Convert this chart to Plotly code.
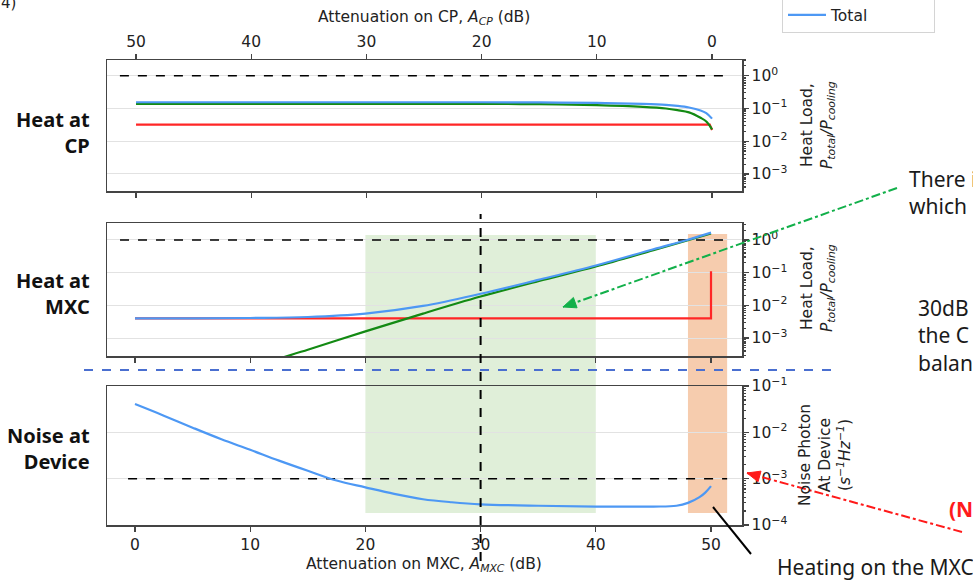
import plotly.graph_objects as go

W, H = 973, 580

# ---------------- data ----------------
# Heat at CP (x = attenuation on CP, dB)
cp_atten = [50, 40, 30, 20, 15, 10, 6, 4, 3, 2, 1, 0.5, 0]
cp_total = [0.155, 0.155, 0.155, 0.155, 0.153, 0.148, 0.138, 0.129, 0.120, 0.107, 0.087, 0.072, 0.049]
cp_active = [0.138, 0.138, 0.138, 0.138, 0.135, 0.126, 0.112, 0.100, 0.089, 0.076, 0.052, 0.040, 0.023]
cp_passive_atten = [50, 0.2, 0]
cp_passive = [0.032, 0.032, 0.022]

# Heat at MXC (x = attenuation on MXC, dB)
mxc_atten = [0, 5, 10, 15, 20, 25, 30, 35, 40, 45, 48, 50]
mxc_total = [4.0e-3, 4.0e-3, 4.1e-3, 4.4e-3, 5.6e-3, 9.6e-3, 2.26e-2, 6.0e-2, 0.165, 0.52, 1.02, 1.68]
mxc_active = [1.3e-5, 4.0e-5, 1.26e-4, 4.4e-4, 1.6e-3, 5.6e-3, 1.86e-2, 5.5e-2, 0.155, 0.49, 0.98, 1.58]
mxc_passive_atten = [0, 50, 50]
mxc_passive = [4.0e-3, 4.0e-3, 0.11]

# Noise photon at device (x = attenuation on MXC, dB)
noise_atten = [0, 2.5, 5, 7.5, 10, 12.5, 15, 17.5, 20, 22.5, 25, 27.5, 30,
               35, 40, 45, 47, 48, 49, 49.5, 50]
noise_photon = [4.07e-2, 2.29e-2, 1.26e-2, 7.1e-3, 4.2e-3, 2.45e-3, 1.48e-3, 9.1e-4,
                6.5e-4, 4.7e-4, 3.6e-4, 3.1e-4, 2.8e-4, 2.6e-4, 2.5e-4, 2.5e-4,
                2.6e-4, 3.0e-4, 4.0e-4, 5.0e-4, 6.9e-4]

heat_limit = 1.0
noise_limit = 1e-3
chosen_mxc = 30
green_band = [20, 40]
orange_band = [48, 51.4]

tick_db = [0, 10, 20, 30, 40, 50]
heat_ticks = [1, 0.1, 0.01, 0.001]
heat_ticktext = ["10<sup>0</sup>", "10<sup>−1</sup>", "10<sup>−2</sup>", "10<sup>−3</sup>"]
noise_ticks = [0.1, 0.01, 0.001, 0.0001]
noise_ticktext = ["10<sup>−1</sup>", "10<sup>−2</sup>", "10<sup>−3</sup>", "10<sup>−4</sup>"]

# ---------------- styling ----------------
BLUE = "#4d98f4"
GREEN = "#138a13"
RED = "#ff2626"
AXC = "#444444"
TXT = "#222222"
MPL = "DejaVu Sans"
SANS = "Noto Sans"
LW = 2.2


def px(x):
    return x / W


def py(y):
    return 1 - y / H


def minor_vals(lo, hi):
    vals = []
    for e in range(lo, hi + 1):
        for k in range(2, 10):
            vals.append(k * 10.0 ** e)
    return vals


fig = go.Figure()

# --- Heat at CP ---
fig.add_trace(go.Scatter(x=[51.4, -1.3], y=[heat_limit, heat_limit], mode="lines",
                         line=dict(color="black", width=1.5, dash="dash"),
                         xaxis="x", yaxis="y", showlegend=False, hoverinfo="skip"))
fig.add_trace(go.Scatter(x=cp_passive_atten, y=cp_passive, mode="lines", name="Passive heat",
                         line=dict(color=RED, width=LW), xaxis="x", yaxis="y",
                         legendgroup="p"))
fig.add_trace(go.Scatter(x=cp_atten, y=cp_active, mode="lines", name="Active heat",
                         line=dict(color=GREEN, width=LW, shape="spline"), xaxis="x", yaxis="y",
                         legendgroup="a"))
fig.add_trace(go.Scatter(x=cp_atten, y=cp_total, mode="lines", name="Total",
                         line=dict(color=BLUE, width=LW, shape="spline"), xaxis="x", yaxis="y",
                         legendgroup="t"))

# --- Heat at MXC ---
fig.add_trace(go.Scatter(x=[-1.3, 51.5], y=[heat_limit, heat_limit], mode="lines",
                         line=dict(color="black", width=1.5, dash="dash"),
                         xaxis="x2", yaxis="y2", showlegend=False, hoverinfo="skip"))
fig.add_trace(go.Scatter(x=mxc_passive_atten, y=mxc_passive, mode="lines",
                         line=dict(color=RED, width=LW), xaxis="x2", yaxis="y2",
                         legendgroup="p", showlegend=False))
fig.add_trace(go.Scatter(x=mxc_atten, y=mxc_active, mode="lines",
                         line=dict(color=GREEN, width=LW, shape="spline"), xaxis="x2", yaxis="y2",
                         legendgroup="a", showlegend=False))
fig.add_trace(go.Scatter(x=mxc_atten, y=mxc_total, mode="lines",
                         line=dict(color=BLUE, width=LW, shape="spline"), xaxis="x2", yaxis="y2",
                         legendgroup="t", showlegend=False))

# --- Noise at device ---
fig.add_trace(go.Scatter(x=[-0.6, 51.4], y=[noise_limit, noise_limit], mode="lines",
                         line=dict(color="black", width=1.5, dash="dash"),
                         xaxis="x3", yaxis="y3", showlegend=False, hoverinfo="skip"))
fig.add_trace(go.Scatter(x=noise_atten, y=noise_photon, mode="lines",
                         line=dict(color=BLUE, width=LW, shape="spline"), xaxis="x3", yaxis="y3",
                         legendgroup="t", showlegend=False))

X0, X1 = px(107), px(742)
dom_top = [py(191), py(60)]
dom_mid = [py(356), py(223)]
dom_bot = [py(525), py(386)]

xcommon = dict(showgrid=False, zeroline=False, showline=True, linecolor=AXC, linewidth=1.5,
               ticks="outside", ticklen=5, tickwidth=1.2, tickcolor=AXC,
               tickfont=dict(family=MPL, size=15.5, color=TXT), domain=[X0, X1])
ycommon = dict(type="log", side="right", showgrid=True, gridcolor="#e2e2e2", gridwidth=1,
               zeroline=False, showline=True, linecolor=AXC, linewidth=1.5, mirror=True,
               ticks="outside", ticklen=5, tickwidth=1.2, tickcolor=AXC,
               tickfont=dict(family=MPL, size=15.5, color=TXT))

fig.update_layout(
    width=W, height=H,
    margin=dict(l=0, r=0, t=0, b=0, autoexpand=False),
    paper_bgcolor="white", plot_bgcolor="rgba(0,0,0,0)",
    hovermode=False,
    xaxis=dict(**xcommon, anchor="y", side="top", range=[52.52, -2.6], mirror="ticks",
               tickmode="array", tickvals=tick_db),
    xaxis2=dict(**xcommon, anchor="y2", range=[-2.43, 52.69], mirror=True,
                tickmode="array", tickvals=tick_db, showticklabels=False),
    xaxis3=dict(**xcommon, anchor="y3", range=[-2.43, 52.69], mirror=True,
                tickmode="array", tickvals=tick_db),
    yaxis=dict(**ycommon, anchor="x", domain=dom_top, range=[-3.52, 0.48],
               tickmode="array", tickvals=heat_ticks, ticktext=heat_ticktext,
               minor=dict(ticks="outside", ticklen=2.5, tickcolor=AXC, showgrid=False,
                          tickmode="array", tickvals=minor_vals(-4, 0))),
    yaxis2=dict(**ycommon, anchor="x2", domain=dom_mid, range=[-3.55, 0.52],
                tickmode="array", tickvals=heat_ticks, ticktext=heat_ticktext,
                minor=dict(ticks="outside", ticklen=2.5, tickcolor=AXC, showgrid=False,
                           tickmode="array", tickvals=minor_vals(-4, 0))),
    yaxis3=dict(**ycommon, anchor="x3", domain=dom_bot, range=[-4, -1],
                tickmode="array", tickvals=noise_ticks, ticktext=noise_ticktext,
                minor=dict(ticks="outside", ticklen=2.5, tickcolor=AXC, showgrid=False,
                           tickmode="array", tickvals=minor_vals(-4, -2))),
    legend=dict(x=px(782), y=py(33), xanchor="left", yanchor="bottom",
                bgcolor="white", bordercolor="#d4d4d4", borderwidth=1,
                font=dict(family=MPL, size=15.5, color=TXT), itemwidth=38,
                traceorder="normal"),
)

shapes = []
# shaded bands spanning the MXC heat and noise panels
shapes.append(dict(type="rect", xref="x3", yref="paper", x0=green_band[0], x1=green_band[1],
                   y0=py(513), y1=py(235), fillcolor="rgba(160,205,140,0.33)",
                   line=dict(width=0), layer="below"))
shapes.append(dict(type="rect", xref="x3", yref="paper", x0=orange_band[0], x1=orange_band[1],
                   y0=py(513), y1=py(234), fillcolor="rgba(240,170,120,0.6)",
                   line=dict(width=0), layer="below"))
# chosen operating point
shapes.append(dict(type="line", xref="x3", yref="paper", x0=chosen_mxc, x1=chosen_mxc,
                   y0=py(561), y1=py(214), line=dict(color="black", width=2, dash="dash"),
                   layer="above"))
# blue separator
shapes.append(dict(type="line", xref="paper", yref="paper", x0=px(84), x1=px(840),
                   y0=py(370), y1=py(370), line=dict(color="#4a6fd0", width=2, dash="dash")))


def arrow(x0, y0, x1, y1, color, dash, head=True):
    shapes.append(dict(type="line", xref="paper", yref="paper", x0=px(x0), y0=py(y0),
                       x1=px(x1), y1=py(y1), line=dict(color=color, width=2, dash=dash)))
    if head:
        dx, dy = x1 - x0, y1 - y0
        n = (dx * dx + dy * dy) ** 0.5
        ux, uy = dx / n, dy / n
        L, Wd = 13, 5.5
        bx, by = x1 - ux * L, y1 - uy * L
        p1 = (bx - uy * Wd, by + ux * Wd)
        p2 = (bx + uy * Wd, by - ux * Wd)
        path = "M {} {} L {} {} L {} {} Z".format(px(x1), py(y1), px(p1[0]), py(p1[1]),
                                                    px(p2[0]), py(p2[1]))
        shapes.append(dict(type="path", xref="paper", yref="paper", path=path,
                           fillcolor=color, line=dict(color=color, width=1)))


arrow(897, 188, 563, 307, "#12b04a", "dashdot")
arrow(962, 532, 747, 473, "#ff1a1a", "dashdot")
arrow(713, 507, 751, 554, "black", "solid", head=False)

fig.update_layout(shapes=shapes)

ann = []


def text(x, y, s, size=21, family=SANS, color="#1a1a1a", xa="left", ya="middle",
         angle=0, align="left"):
    ann.append(dict(x=px(x), y=py(y), xref="paper", yref="paper", text=s, showarrow=False,
                    xanchor=xa, yanchor=ya, textangle=angle, align=align,
                    font=dict(family=family, size=size, color=color)))


# axis titles
text(424, 18, "Attenuation on CP, <i>A<sub>CP</sub></i> (dB)", size=15.5, family=MPL,
     color=TXT, xa="center")
text(424, 565, "Attenuation on MXC, <i>A<sub>MXC</sub></i> (dB)", size=15.5, family=MPL,
     color=TXT, xa="center")
text(818, 125, "Heat Load,<br><i>P<sub>total</sub>/P<sub>cooling</sub></i>", size=15.5,
     family=MPL, color=TXT, xa="center", angle=-90, align="center")
text(818, 288, "Heat Load,<br><i>P<sub>total</sub>/P<sub>cooling</sub></i>", size=15.5,
     family=MPL, color=TXT, xa="center", angle=-90, align="center")
text(825, 455, "Noise Photon<br>At Device<br>(<i>s<sup>−1</sup>Hz<sup>−1</sup></i>)",
     size=15.5, family=MPL, color=TXT, xa="center", angle=-90, align="center")

# row labels
text(92, 132, "<b>Heat at<br>CP</b>", size=20, xa="right", align="right", color="#111")
text(92, 293, "<b>Heat at<br>MXC</b>", size=20, xa="right", align="right", color="#111")
text(92, 448, "<b>Noise at<br>Device</b>", size=20, xa="right", align="right", color="#111")

# surrounding slide text fragments
text(907, 179, "There i")
text(907, 206, "which")
text(916, 308, "30dB")
text(916, 335, "the C")
text(916, 363, "balan")
text(947, 509, "<b>(N</b>", color="#ff1a1a")
text(775, 567, "Heating on the MXC")
text(-1, 3, "4)", size=15, family=MPL, color=TXT)

fig.update_layout(annotations=ann)

fig.write_html("out.html",
               config=dict(displayModeBar=False, staticPlot=True),
               post_script="document.body.style.margin='0px';"
                           "document.body.style.overflow='hidden';")
